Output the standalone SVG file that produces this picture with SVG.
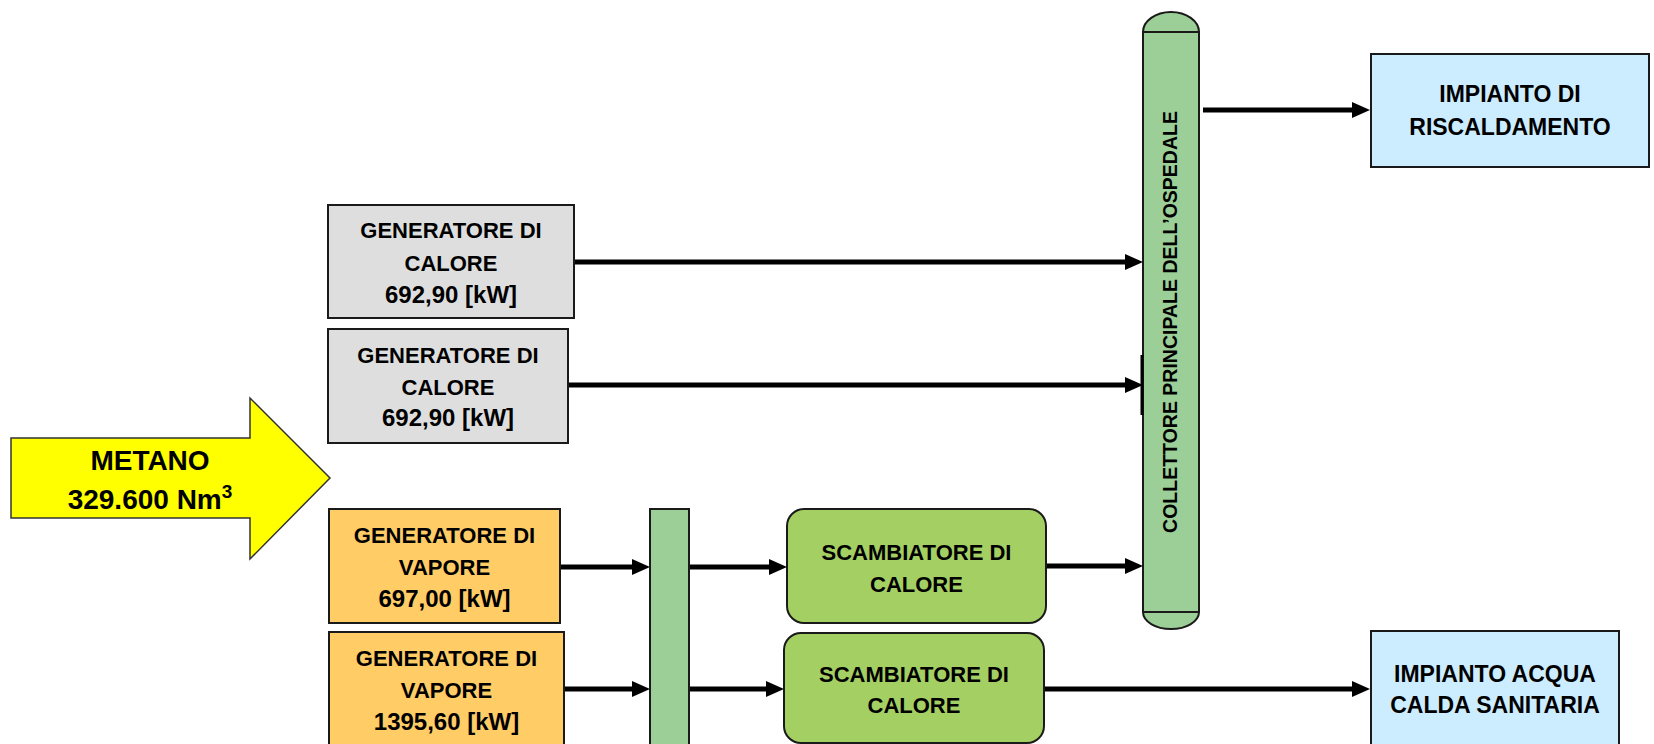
<svg xmlns="http://www.w3.org/2000/svg" width="1654" height="744" viewBox="0 0 1654 744">
<style>
text{font-family:"Liberation Sans",Arial,sans-serif;font-weight:bold;fill:#000;text-anchor:middle}
.t{font-size:22px}
.n{font-size:24px}
.i{font-size:23px}
.box{stroke:#1a1a1a;stroke-width:2}
.gray{fill:#DEDEDE}
.orange{fill:#FFCC66}
.green{fill:#9CCF97}
.lgreen{fill:#A4CF63}
.blue{fill:#CCECFF}
.conn{stroke:#000;stroke-width:5;fill:none;marker-end:url(#ah)}
</style>
<defs>
<marker id="ah" markerUnits="userSpaceOnUse" markerWidth="18" markerHeight="16" refX="8" refY="8" orient="auto">
<path d="M0,0 L18,8 L0,16 Z" fill="#000"/>
</marker>
</defs>
<rect width="1654" height="744" fill="#fff"/>

<g id="metano">
<polygon points="11,438 250,438 250,398 330,478 250,559 250,518 11,518" fill="#FFFF00" stroke="#333" stroke-width="1.5"/>
<text x="150" y="470" font-size="28">METANO</text>
<text x="150" y="509" font-size="28">329.600 Nm<tspan dy="-11" font-size="19">3</tspan></text>
</g>

<g id="gen-calore-1">
<rect class="box gray" x="328" y="205" width="246" height="113"/>
<text class="t" x="451" y="238">GENERATORE DI</text>
<text class="t" x="451" y="271">CALORE</text>
<text class="n" x="451" y="303">692,90 [kW]</text>
</g>

<g id="gen-calore-2">
<rect class="box gray" x="328" y="329" width="240" height="114"/>
<text class="t" x="448" y="363">GENERATORE DI</text>
<text class="t" x="448" y="395">CALORE</text>
<text class="n" x="448" y="426">692,90 [kW]</text>
</g>

<g id="gen-vapore-1">
<rect class="box orange" x="329" y="509" width="231" height="114"/>
<text class="t" x="444.5" y="543">GENERATORE DI</text>
<text class="t" x="444.5" y="575">VAPORE</text>
<text class="n" x="444.5" y="607">697,00 [kW]</text>
</g>

<g id="gen-vapore-2">
<rect class="box orange" x="329" y="632" width="235" height="130"/>
<text class="t" x="446.5" y="666">GENERATORE DI</text>
<text class="t" x="446.5" y="698">VAPORE</text>
<text class="n" x="446.5" y="730">1395,60 [kW]</text>
</g>

<g id="collettore-vapore">
<rect class="box green" x="650" y="509" width="39" height="260"/>
</g>

<g id="scambiatore-1">
<rect class="box lgreen" x="787" y="509" width="259" height="114" rx="17" ry="17"/>
<text class="t" x="916.5" y="560">SCAMBIATORE DI</text>
<text class="t" x="916.5" y="592">CALORE</text>
</g>

<g id="scambiatore-2">
<rect class="box lgreen" x="784" y="633" width="260" height="110" rx="17" ry="17"/>
<text class="t" x="914" y="682">SCAMBIATORE DI</text>
<text class="t" x="914" y="713">CALORE</text>
</g>

<g id="collettore-principale">
<path class="box green" d="M1143,32 A28,20 0 0 1 1199,32 Z"/>
<path class="box green" d="M1143,612 A28,17 0 0 0 1199,612 Z"/>
<rect class="box green" x="1143" y="32" width="56" height="580"/>
<line x1="1142" y1="355" x2="1142" y2="415" stroke="#000" stroke-width="3"/>
<text transform="translate(1177,322) rotate(-90)" font-size="19.5">COLLETTORE PRINCIPALE DELL’OSPEDALE</text>
</g>

<g id="impianto-riscaldamento">
<rect class="box blue" x="1371" y="54" width="278" height="113"/>
<text class="i" x="1510" y="102">IMPIANTO DI</text>
<text class="i" x="1510" y="135">RISCALDAMENTO</text>
</g>

<g id="impianto-acqua">
<rect class="box blue" x="1371" y="631" width="248" height="130"/>
<text class="i" x="1495" y="682">IMPIANTO ACQUA</text>
<text class="i" x="1495" y="713">CALDA SANITARIA</text>
</g>

<g id="connectors">
<line class="conn" x1="575" y1="262" x2="1133" y2="262"/>
<line class="conn" x1="569" y1="385" x2="1133" y2="385"/>
<line class="conn" x1="561" y1="567" x2="640" y2="567"/>
<line class="conn" x1="565" y1="689" x2="640" y2="689"/>
<line class="conn" x1="690" y1="567" x2="777" y2="567"/>
<line class="conn" x1="690" y1="689" x2="774" y2="689"/>
<line class="conn" x1="1047" y1="566" x2="1133" y2="566"/>
<line class="conn" x1="1045" y1="689" x2="1360" y2="689"/>
<line class="conn" x1="1203" y1="110" x2="1360" y2="110"/>
</g>
</svg>
